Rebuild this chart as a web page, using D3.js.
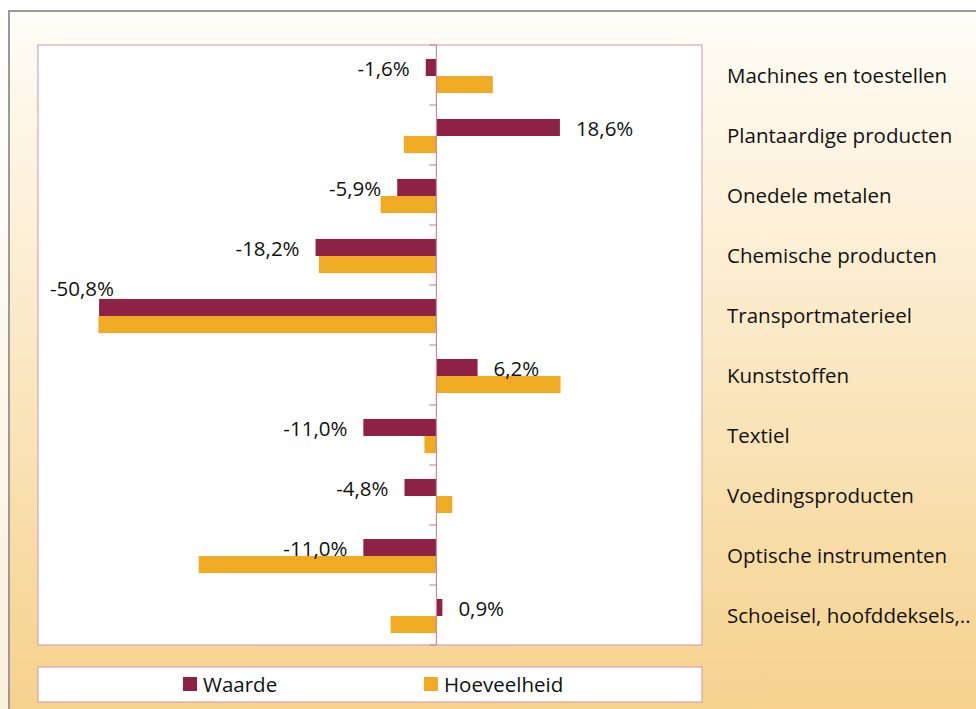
<!DOCTYPE html>
<html>
<head>
<meta charset="utf-8">
<script src="https://cdn.jsdelivr.net/npm/d3@7"></script>
<style>
  body { margin: 0; background: #fff; }
  svg { display: block; font-family: "Open Sans", sans-serif; }
</style>
</head>
<body>
<div id="chart"></div>
<script>
// data
const categories = [
    "Machines en toestellen",
    "Plantaardige producten",
    "Onedele metalen",
    "Chemische producten",
    "Transportmaterieel",
    "Kunststoffen",
    "Textiel",
    "Voedingsproducten",
    "Optische instrumenten",
    "Schoeisel, hoofddeksels,.."
];
const waarde = [-1.6, 18.6, -5.9, -18.2, -50.8, 6.2, -11.0, -4.8, -11.0, 0.9];
const hoeveelheid = [8.5, -4.9, -8.4, -17.7, -50.9, 18.7, -1.8, 2.4, -35.8, -6.9];
const seriesNames = ["Waarde", "Hoeveelheid"];
const colors = ["#8e2246", "#f0ab24"];

const width = 976, height = 709;
const plot = { left: 38, top: 45, right: 702, bottom: 645 };
const fontSize = 20.5;

const svg = d3.select("#chart").append("svg")
    .attr("width", width)
    .attr("height", height);

// background gradients
const defs = svg.append("defs");
const grad = defs.append("linearGradient")
    .attr("id", "bg").attr("x1", 0).attr("y1", 0).attr("x2", 0).attr("y2", 1);
grad.append("stop").attr("offset", "0%").attr("stop-color", "#fffdf8");
grad.append("stop").attr("offset", "100%").attr("stop-color", "#f5d18b");

const outer = defs.append("linearGradient")
    .attr("id", "bgOuter").attr("x1", 0).attr("y1", 0).attr("x2", 0).attr("y2", 1);
outer.append("stop").attr("offset", "0%").attr("stop-color", "#ffffff");
outer.append("stop").attr("offset", "100%").attr("stop-color", "#fcf0dc");

svg.append("rect")
    .attr("width", width).attr("height", height)
    .attr("fill", "url(#bgOuter)");

svg.append("rect")
    .attr("x", 9).attr("y", 11)
    .attr("width", width).attr("height", height)
    .attr("fill", "url(#bg)")
    .attr("stroke", "#9a9a9a")
    .attr("stroke-width", 2);

// plot area
svg.append("rect")
    .attr("x", plot.left).attr("y", plot.top)
    .attr("width", plot.right - plot.left).attr("height", plot.bottom - plot.top)
    .attr("fill", "#fff")
    .attr("stroke", "#d9a3b4")
    .attr("stroke-width", 1.2);

const x = d3.scaleLinear().domain([-60, 40]).range([plot.left, plot.right]);
const y0 = d3.scaleBand().domain(categories).range([plot.top, plot.bottom]);
const y1 = d3.scaleBand().domain(seriesNames).range([1, y0.bandwidth() + 1]).paddingOuter(0.76).paddingInner(0);

const rows = categories.map((c, i) => ({ cat: c, vals: [waarde[i], hoeveelheid[i]] }));

// bars
const groups = svg.selectAll(".row")
    .data(rows)
    .enter()
    .append("g")
    .attr("class", "row")
    .attr("transform", d => `translate(0,${y0(d.cat)})`);

groups.selectAll("rect")
    .data(d => d.vals.map((v, j) => ({ v, s: seriesNames[j], j })))
    .enter()
    .append("rect")
    .attr("x", d => x(Math.min(0, d.v)))
    .attr("y", d => y1(d.s))
    .attr("width", d => Math.abs(x(d.v) - x(0)))
    .attr("height", y1.bandwidth())
    .attr("fill", d => colors[d.j]);

// zero axis with ticks at category boundaries
const zx = x(0);
svg.append("line")
    .attr("x1", zx).attr("x2", zx)
    .attr("y1", plot.top).attr("y2", plot.bottom)
    .attr("stroke", "#c98aa0").attr("stroke-width", 1.2);

svg.selectAll(".tick-mark")
    .data(d3.range(categories.length + 1))
    .enter()
    .append("line")
    .attr("class", "tick-mark")
    .attr("x1", zx - 7).attr("x2", zx)
    .attr("y1", i => plot.top + i * y0.bandwidth())
    .attr("y2", i => plot.top + i * y0.bandwidth())
    .attr("stroke", "#c98aa0").attr("stroke-width", 1.2);

// data labels for Waarde
const fmt = v => d3.format(".1f")(v).replace(".", ",").replace("\u2212", "-") + "%";
groups.append("text")
    .attr("font-size", fontSize)
    .attr("fill", "#111")
    .attr("dominant-baseline", "central")
    .each(function(d) {
        const v = d.vals[0];
        const t = d3.select(this).text(fmt(v));
        const yc = y1("Waarde") + y1.bandwidth() / 2 + 1;
        if (v >= 0) {
            t.attr("x", x(v) + 16).attr("y", yc).attr("text-anchor", "start");
        } else if (x(v) - 16 - 70 < plot.left) {
            // no room left of the bar: put it above
            t.attr("x", plot.left + 12).attr("y", y1("Waarde") - 11).attr("text-anchor", "start");
        } else {
            t.attr("x", x(v) - 16).attr("y", yc).attr("text-anchor", "end");
        }
    });

// category labels on the right
svg.selectAll(".cat-label")
    .data(categories)
    .enter()
    .append("text")
    .attr("class", "cat-label")
    .attr("x", 727)
    .attr("y", d => y0(d) + y0.bandwidth() / 2)
    .attr("dominant-baseline", "central")
    .attr("font-size", fontSize)
    .attr("fill", "#111")
    .text(d => d);

// legend
svg.append("rect")
    .attr("x", plot.left).attr("y", 667)
    .attr("width", plot.right - plot.left).attr("height", 35)
    .attr("fill", "#fff")
    .attr("stroke", "#d9a3b4")
    .attr("stroke-width", 1.2);

const legendX = [183, 424];
const legend = svg.selectAll(".legend")
    .data(seriesNames)
    .enter()
    .append("g")
    .attr("class", "legend")
    .attr("transform", (d, i) => `translate(${legendX[i]},677)`);

legend.append("rect")
    .attr("width", 14).attr("height", 14)
    .attr("fill", (d, i) => colors[i]);

legend.append("text")
    .attr("x", 20).attr("y", 7)
    .attr("dominant-baseline", "central")
    .attr("font-size", fontSize)
    .attr("fill", "#111")
    .text(d => d);
</script>
</body>
</html>
